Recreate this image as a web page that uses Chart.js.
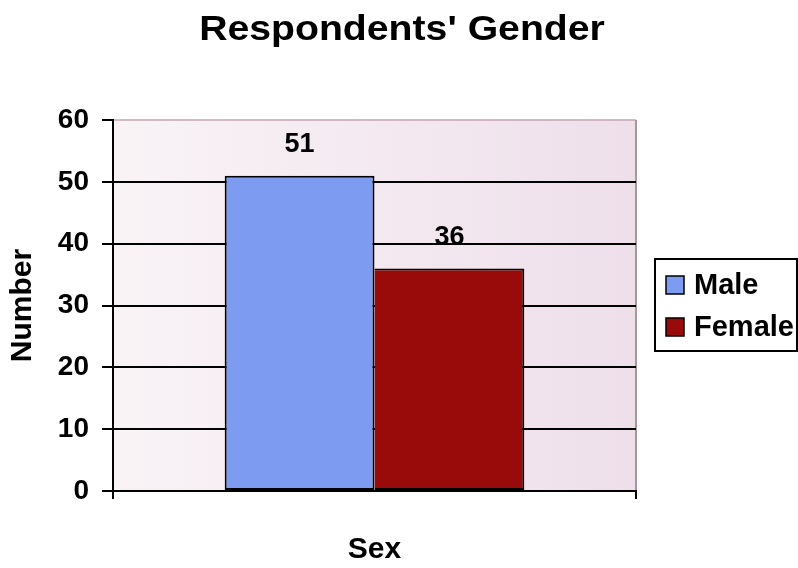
<!DOCTYPE html>
<html>
<head>
<meta charset="utf-8">
<script src="https://cdn.jsdelivr.net/npm/chart.js@4/dist/chart.umd.min.js"></script>
<style>
  html, body { margin: 0; padding: 0; background: #ffffff; }
  #wrap { width: 798px; height: 568px; }
</style>
</head>
<body>
<div id="wrap"><canvas id="c" width="798" height="568"></canvas></div>
<script>
// Survey result: respondents by sex
const chartTitle = "Respondents' Gender";
const categories = [''];
const seriesNames = ['Male', 'Female'];
const maleValues = [51];
const femaleValues = [36];
const seriesColors = ['#7d9bf0', '#990a0a'];
const yTicks = [0, 10, 20, 30, 40, 50, 60];

const FONT = '"Liberation Sans", Arial, Helvetica, sans-serif';
Chart.defaults.font.family = FONT;
Chart.defaults.color = '#000';

// Wide bold heading centred over the whole canvas
const wideTitle = {
  id: 'wideTitle',
  afterDraw(chart) {
    const { ctx } = chart;
    ctx.save();
    ctx.font = 'bold 35px ' + FONT;
    ctx.fillStyle = '#000';
    ctx.textAlign = 'center';
    ctx.textBaseline = 'alphabetic';
    ctx.translate(402, 40);
    ctx.scale(1.12, 1);
    ctx.fillText(chartTitle, 0, 0);
    ctx.restore();
  }
};

// Plot area fill (soft pink-to-lavender wash) and its thin frame
const plotBackground = {
  id: 'plotBackground',
  beforeDraw(chart) {
    const { ctx, chartArea: a } = chart;
    const g = ctx.createLinearGradient(a.left, 0, a.right, 0);
    g.addColorStop(0, '#f9f3f6');
    g.addColorStop(1, '#eedfeb');
    ctx.save();
    ctx.fillStyle = g;
    ctx.fillRect(a.left, a.top, a.right - a.left, a.bottom - a.top);
    ctx.strokeStyle = '#c3a6b4';
    ctx.lineWidth = 1.5;
    ctx.beginPath();
    ctx.moveTo(a.left, a.top);
    ctx.lineTo(a.right, a.top);
    ctx.stroke();
    ctx.strokeStyle = '#a8979f';
    ctx.lineWidth = 2;
    ctx.beginPath();
    ctx.moveTo(a.right, a.top);
    ctx.lineTo(a.right, a.bottom);
    ctx.stroke();
    ctx.restore();
  }
};

// Value printed above each bar
const valueLabels = {
  id: 'valueLabels',
  afterDatasetsDraw(chart) {
    const { ctx } = chart;
    ctx.save();
    ctx.font = 'bold 27px ' + FONT;
    ctx.fillStyle = '#000';
    ctx.textAlign = 'center';
    ctx.textBaseline = 'middle';
    chart.data.datasets.forEach((ds, i) => {
      const meta = chart.getDatasetMeta(i);
      meta.data.forEach((bar, j) => {
        ctx.fillText(String(ds.data[j]), bar.x, bar.y - 31);
      });
    });
    ctx.restore();
  }
};

// Boxed legend on the right
const boxedLegend = {
  id: 'boxedLegend',
  afterDraw(chart) {
    const { ctx } = chart;
    const x = 655, y = 259, w = 142, h = 92;
    ctx.save();
    ctx.fillStyle = '#ffffff';
    ctx.fillRect(x, y, w, h);
    ctx.strokeStyle = '#000';
    ctx.lineWidth = 2;
    ctx.strokeRect(x, y, w, h);
    ctx.font = 'bold 29px ' + FONT;
    ctx.textAlign = 'left';
    ctx.textBaseline = 'middle';
    chart.data.datasets.forEach((ds, i) => {
      const cy = 285 + i * 42;
      ctx.fillStyle = ds.backgroundColor;
      ctx.fillRect(666, cy - 9, 18, 18);
      ctx.lineWidth = 1.5;
      ctx.strokeStyle = '#000';
      ctx.strokeRect(666, cy - 9, 18, 18);
      ctx.fillStyle = '#000';
      ctx.fillText(ds.label, 694, cy + 1);
    });
    ctx.restore();
  }
};

new Chart(document.getElementById('c'), {
  type: 'bar',
  data: {
    labels: categories,
    datasets: [
      { label: seriesNames[0], data: maleValues, backgroundColor: seriesColors[0],
        borderWidth: 2 },
      { label: seriesNames[1], data: femaleValues, backgroundColor: seriesColors[1],
        borderWidth: { top: 2, right: 2, bottom: 2, left: 0 } }
    ].map(d => Object.assign(d, {
      borderColor: '#000',
      borderSkipped: false,
      categoryPercentage: 0.573,
      barPercentage: 1.0
    }))
  },
  options: {
    responsive: false,
    animation: false,
    devicePixelRatio: 1,
    layout: { padding: { left: 0, right: 162, top: 120, bottom: 0 } },
    plugins: {
      legend: { display: false },
      tooltip: { enabled: false },
      title: { display: false }
    },
    scales: {
      x: {
        offset: true,
        ticks: { display: false },
        grid: {
          offset: true,
          drawOnChartArea: false,
          drawTicks: true,
          tickLength: 8,
          color: '#000',
          lineWidth: 2
        },
        border: { display: true, color: '#000', width: 2 },
        title: {
          display: true,
          text: 'Sex',
          font: { size: 30, weight: 'bold', lineHeight: 1.2 },
          color: '#000',
          padding: { top: 0, bottom: 0 }
        },
        afterFit(scale) { scale.height = 77; }
      },
      y: {
        min: 0,
        max: 60,
        afterBuildTicks(scale) { scale.ticks = yTicks.map(v => ({ value: v })); },
        ticks: {
          font: { size: 28, weight: 'bold' },
          color: '#000',
          padding: 13
        },
        grid: {
          color: ctx => (ctx.tick && ctx.tick.value === 60) ? 'rgba(0,0,0,0)' : '#000',
          tickColor: '#000',
          lineWidth: 2,
          tickLength: 11
        },
        border: { display: true, color: '#000', width: 2 },
        title: {
          display: true,
          text: 'Number',
          font: { size: 30, weight: 'bold', lineHeight: 1.2 },
          color: '#000',
          padding: { top: 5, bottom: 0 }
        },
        afterFit(scale) { scale.width = 113; }
      }
    }
  },
  plugins: [plotBackground, valueLabels, boxedLegend, wideTitle]
});
</script>
</body>
</html>
